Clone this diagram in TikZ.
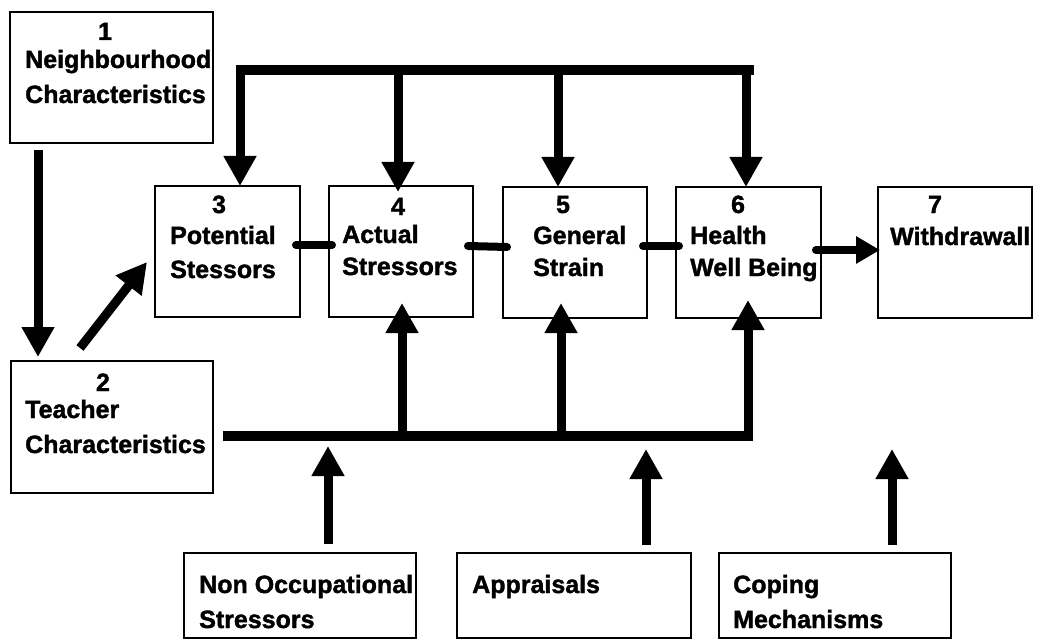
\documentclass[tikz,border=0pt]{standalone}
\usepackage{fontspec}
\setmainfont{Liberation Sans}[BoldFeatures={FakeBold=1.5}]
\usetikzlibrary{arrows.meta,calc}
\begin{document}
\begin{tikzpicture}[x=1pt,y=-1pt,
  boxst/.style={draw, line width=1.6pt, inner sep=0pt, outer sep=0pt, anchor=north west},
  lbl/.style={anchor=base west, inner sep=0pt, font=\bfseries\fontsize{25}{30}\selectfont},
  numl/.style={anchor=base, inner sep=0pt, font=\bfseries\fontsize{25}{30}\selectfont},
  arr/.style={line width=9pt, -{Triangle[width=31pt,length=30pt]}},
  smallarr/.style={line width=8pt, -{Triangle[width=26pt,length=24pt]}},
  hbar/.style={line width=10pt},
  conn/.style={line width=8pt, line cap=round},
]
\useasboundingbox (0,0) rectangle (1048,639);
\clip (0,0) rectangle (1048,639);
\fill[white] (0,0) rectangle (1048,639);

% boxes
\node[boxst, minimum width=203pt, minimum height=131pt] (b1) at (10,12) {};
\node[boxst, minimum width=202pt, minimum height=132pt] (b2) at (11,361) {};
\node[boxst, minimum width=145pt, minimum height=131pt] (b3) at (155,186) {};
\node[boxst, minimum width=144pt, minimum height=131pt] (b4) at (329,186) {};
\node[boxst, minimum width=144pt, minimum height=131pt] (b5) at (503,187) {};
\node[boxst, minimum width=145pt, minimum height=131pt] (b6) at (676,187) {};
\node[boxst, minimum width=154pt, minimum height=131pt] (b7) at (878,187) {};
\node[boxst, minimum width=232pt, minimum height=85pt] (b8) at (184,553) {};
\node[boxst, minimum width=234pt, minimum height=85pt] (b9) at (457,553) {};
\node[boxst, minimum width=232pt, minimum height=85pt] (b10) at (719,553) {};

% texts
\node[numl] (n1) at (105,40) {1};
\node[lbl] (t1a) at (25,68) {Neighbourhood};
\node[lbl] (t1b) at (25,103) {Characteristics};
\node[numl] (n2) at (103,391) {2};
\node[lbl] (t2a) at (25,418) {Teacher};
\node[lbl] (t2b) at (25,453) {Characteristics};
\node[numl] (n3) at (219,213) {3};
\node[lbl] (t3a) at (170,244) {Potential};
\node[lbl] (t3b) at (170,278) {Stessors};
\node[numl] (n4) at (398,215) {4};
\node[lbl] (t4a) at (342,243) {Actual};
\node[lbl] (t4b) at (342,275) {Stressors};
\node[numl] (n5) at (563,213) {5};
\node[lbl] (t5a) at (533,244) {General};
\node[lbl] (t5b) at (533,276) {Strain};
\node[numl] (n6) at (738,213) {6};
\node[lbl] (t6a) at (690,244) {Health};
\node[lbl] (t6b) at (690,276) {Well Being};
\node[numl] (n7) at (935,213) {7};
\node[lbl] (t7a) at (890,245) {Withdrawall};
\node[lbl] (t8a) at (199,593) {Non Occupational};
\node[lbl] (t8b) at (199,628) {Stressors};
\node[lbl] (t9a) at (472,593) {Appraisals};
\node[lbl] (t10a) at (733,593) {Coping};
\node[lbl] (t10b) at (733,628) {Mechanisms};

% left arrows
\draw[arr] ([xshift=28pt,yshift=-7pt]b1.south west) -- ([xshift=27pt,yshift=4pt]b2.north west);
\draw[arr] ([xshift=69pt,yshift=13pt]b2.north west) -- ([xshift=-8pt,yshift=55pt]b3.south west);

% top bar
\coordinate (tl) at (236,70);
\coordinate (tr) at (754,70);
\draw[hbar] (tl) -- (tr);
\coordinate (t3) at (240,70);
\coordinate (t4) at (398,70);
\coordinate (t5) at (558,70);
\coordinate (t6) at (746,70);
\draw[arr] (t3) -- (t3 |- b3.north);
\draw[arr] (t4) -- ($(t4 |- b4.north)+(0,6)$);
\draw[arr] (t5) -- (t5 |- b5.north);
\draw[arr] (t6) -- (t6 |- b6.north);

% bottom bar
\coordinate (bl) at (223,436);
\coordinate (br) at (753,436);
\draw[hbar] (bl) -- (br);
\coordinate (u4) at (402,436);
\coordinate (u5) at (561,436);
\coordinate (u6) at (748,436);
\draw[arr] (u4) -- ($(u4 |- b4.south)+(0,-14)$);
\draw[arr] (u5) -- ($(u5 |- b5.south)+(0,-15)$);
\draw[arr] (u6) -- ($(u6 |- b6.south)+(0,-18)$);

% inputs from bottom boxes
\coordinate (in8) at (328,446);
\coordinate (in9) at (646,449);
\coordinate (in10) at (892,449);
\draw[arr] ($(b8.north west)+(144,-9)$) -- (in8);
\draw[arr] ($(b9.north west)+(189,-8)$) -- (in9);
\draw[arr] ($(b10.north west)+(173,-8)$) -- (in10);

% chain connectors
\draw[conn] ([xshift=-4pt,yshift=6.5pt]b3.east) -- ([xshift=3pt,yshift=6.5pt]b4.west);
\draw[conn] ([xshift=-5pt,yshift=5.5pt]b4.east) -- ([xshift=4pt,yshift=5.5pt]b5.west);
\draw[conn] ([xshift=-4pt,yshift=6.5pt]b5.east) -- ([xshift=3pt,yshift=6.5pt]b6.west);
\draw[smallarr, line cap=round] ([xshift=-5pt,yshift=2.5pt]b6.east) -- ([xshift=2pt,yshift=2.5pt]b7.west);
\end{tikzpicture}
\end{document}
